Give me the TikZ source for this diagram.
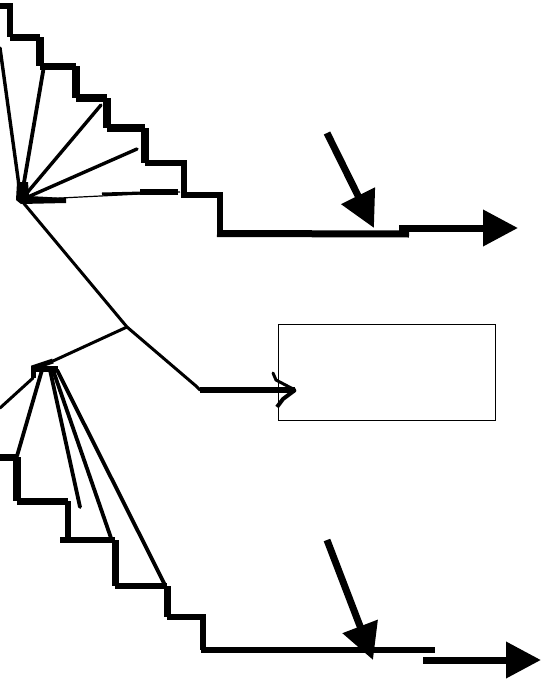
\documentclass[tikz,border=0pt]{standalone}
\usetikzlibrary{arrows.meta}
\tikzset{
  ray/.style={line width=3pt,line cap=round},
  stair/.style={line width=5.5pt,line cap=square,line join=miter},
  heavy/.style={line width=8.5pt,line cap=square},
  bigarrow/.style={line width=7pt,-{Triangle[length=35pt,width=35pt]}},
  smallarrow/.style={line width=7pt,-{Triangle[length=36pt,width=36pt]}},
  outbox/.style={draw,line width=1pt,minimum width=217pt,minimum height=96pt,inner sep=0pt,anchor=north west}
}
\begin{document}
\begin{tikzpicture}[x=1pt,y=-1pt]
\useasboundingbox (0,0) rectangle (541,680);
% upper staircase
\coordinate (u0) at (0,6); \coordinate (u1) at (10,6); \coordinate (u2) at (10,37);
\coordinate (u3) at (40,37); \coordinate (u4) at (40,66); \coordinate (u5) at (76,66);
\coordinate (u6) at (76,98); \coordinate (u7) at (107,98); \coordinate (u8) at (107,128);
\coordinate (u9) at (145,128); \coordinate (u10) at (145,163); \coordinate (u11) at (184,163);
\coordinate (u12) at (184,195); \coordinate (u13) at (220,195); \coordinate (u14) at (220,233);
\coordinate (u15) at (409,234);
\draw[stair,line width=6pt] (u0) -- (u1) -- (u2);
\draw[stair,line width=7pt] (u2) -- (u3);
\draw[heavy] (u3) -- (u4);
\draw[stair,line width=7pt] (u4) -- (u5);
\draw[heavy] (u5) -- (u6);
\draw[stair,line width=8pt] (u6) -- (u7);
\draw[heavy] (u7) -- (u8);
\draw[stair,line width=8pt] (u8) -- (u9);
\draw[heavy] (u9) -- (u10);
\draw[stair] (u10) -- (u11) -- (u12) -- (u13) -- (u14);
\draw[line width=7pt] (217,233.5) -- (u15);
% upper fan
\coordinate (fa) at (21,200);
\coordinate (fb) at (0,48); \coordinate (fc) at (44,66); \coordinate (fd) at (101,105);
\coordinate (fe) at (137,149); \coordinate (ff) at (180,192);
\fill (17,182) -- (28,182) -- (29,196) -- (66,198) -- (66,203) -- (21,204) -- (16,200) -- cycle;
\draw[ray,line width=3.4pt] (fa) -- (fb);
\draw[ray,line width=3.8pt] (fa) -- (fc);
\draw[ray,line width=3.4pt] (fa) -- (fd);
\draw[ray,line width=3.4pt] (fa) -- (fe);
\draw[line width=1.2pt] (fa) -- (ff);
\draw[line width=6pt] (140,191.5) -- (178,191.5);
\draw[line width=3pt] (102,194) -- (142,193);
% trunk
\coordinate (j) at (127,327); \coordinate (k) at (200,390);
\draw[ray] (fa) -- (j);
\draw[ray] (j) -- (196,386) -- (k);
% outgoing bar
\node[outbox] (box) at (278,324) {};
\coordinate (bt) at (295,390);
\draw[line width=6pt] (k) -- (bt);
\coordinate (b1) at (273,373); \coordinate (b2) at (277,407);
\draw[line width=3pt,line cap=round] (b1) -- (276,380) -- (bt);
\draw[line width=4pt] (bt) -- (283,399) -- (b2);
% lower branch
\coordinate (la) at (32,368); \coordinate (lb) at (53,361);
\draw[ray] (j) -- (lb);
\draw[line width=5pt] (lb) -- (la);
\fill (31,366) rectangle (36,378);
\fill (31,366) rectangle (58,372);
% lower fan
\coordinate (g1) at (0,408); \coordinate (g2) at (17,456);
\coordinate (g3) at (80,507); \coordinate (g4) at (111,538); \coordinate (g5) at (165,585);
\draw[ray] (33,378) -- (g1);
\draw[ray,line width=3.8pt] (42,370) -- (g2);
\draw[ray,line width=3.8pt] (50,370) -- (g3);
\draw[ray,line width=3.8pt] (53,370) -- (g4);
\draw[ray,line width=3.8pt] (57,370) -- (g5);
% lower staircase
\coordinate (l0) at (0,457); \coordinate (l1) at (17,457); \coordinate (l2) at (17,501);
\coordinate (l3) at (68,501); \coordinate (l4) at (68,540); \coordinate (l5) at (115,540);
\coordinate (l6) at (115,586); \coordinate (l7) at (167,586); \coordinate (l8) at (167,617);
\coordinate (l9) at (203,617); \coordinate (l10) at (203,650); \coordinate (l11) at (435,650);
\draw[stair,line width=7pt] (l0) -- (l1);
\draw[heavy] (l1) -- (l2);
\draw[stair,line width=7pt] (l2) -- (l3);
\draw[stair,line width=6.5pt] (l3) -- (l4);
\draw[line width=5.5pt] (60,540) -- (l5);
\draw[stair,line width=7pt] (l5) -- (l6);
\draw[stair] (l6) -- (l7);
\draw[stair,line width=7pt] (l7) -- (l8);
\draw[stair] (l8) -- (l9) -- (l10);
\draw[line width=5.5pt,line cap=butt] (200.5,650) -- (l11);
% arrows
\coordinate (a1) at (327,133); \coordinate (a2) at (374,228);
\draw[smallarrow] (a1) -- (a2);
\coordinate (a3) at (399,228); \coordinate (a4) at (518,228);
\draw[bigarrow] (a3) -- (a4);
\coordinate (a5) at (327,540); \coordinate (a6) at (373,660);
\draw[smallarrow] (a5) -- (a6);
\coordinate (a7) at (423,660); \coordinate (a8) at (541,660);
\draw[bigarrow] (a7) -- (a8);
\end{tikzpicture}
\end{document}
